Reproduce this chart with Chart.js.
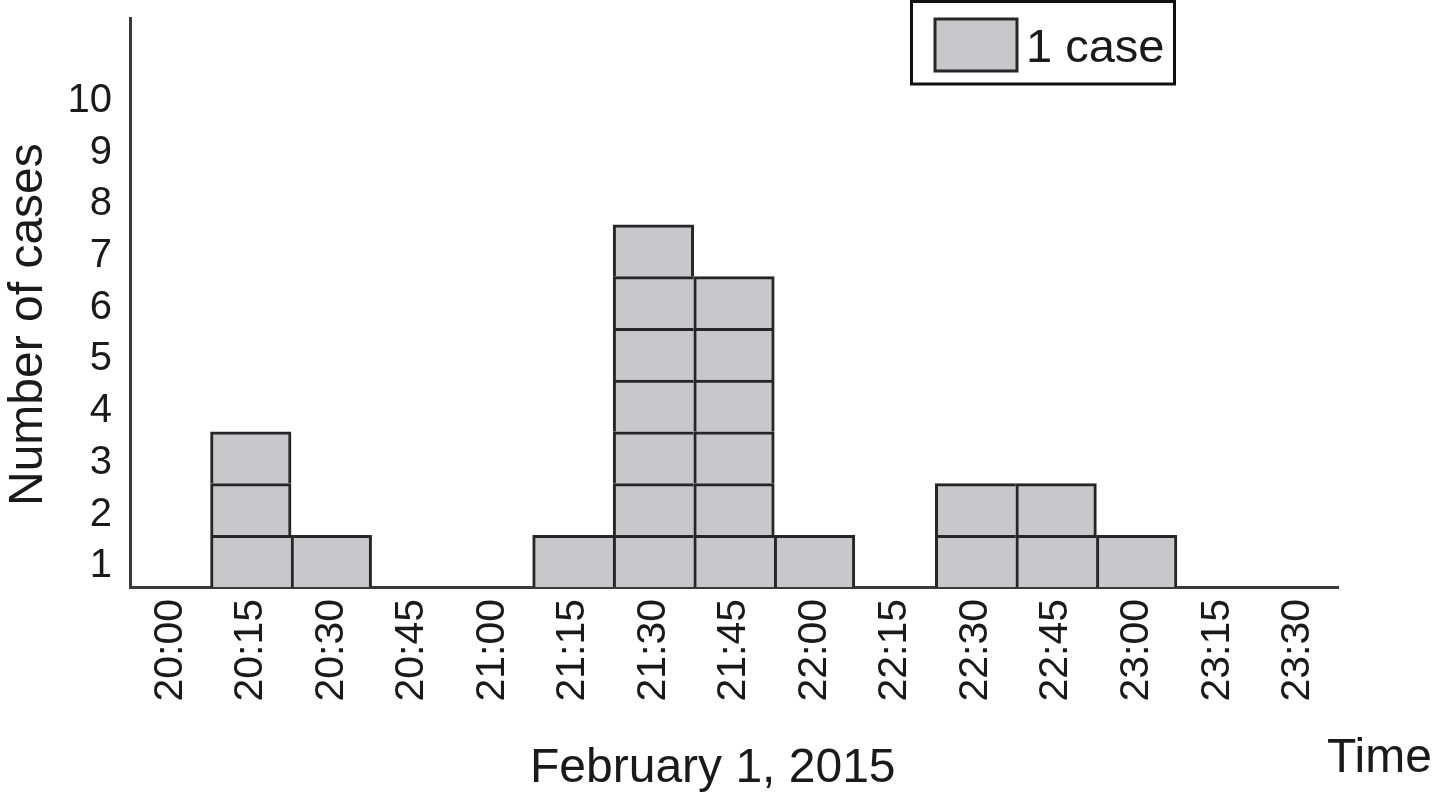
<!DOCTYPE html>
<html>
<head>
<meta charset="utf-8">
<title>Epidemic curve, February 1, 2015</title>
<script src="https://cdn.jsdelivr.net/npm/chart.js@4/dist/chart.umd.min.js"></script>
<style>
  html, body { margin: 0; padding: 0; background: #fff; }
  #wrap { width: 1434px; height: 794px; }
</style>
</head>
<body>
<div id="wrap"><canvas id="chart"></canvas></div>
<script>
// time slots (15 minute bins) and number of cases in each
const timeLabels = ['20:00', '20:15', '20:30', '20:45', '21:00', '21:15', '21:30', '21:45',
                    '22:00', '22:15', '22:30', '22:45', '23:00', '23:15', '23:30'];
const caseCounts = [0, 3, 1, 0, 0, 1, 7, 6, 1, 0, 2, 2, 1, 0, 0];
const yTickLabels = [1, 2, 3, 4, 5, 6, 7, 8, 9, 10];
const yMax = 11;

const xTitle = 'February 1, 2015';
const xUnit = 'Time';
const yTitle = 'Number of cases';
const legendText = '1 case';

const boxFill = '#c8c8ca';
const boxLine = '#262626';
const axisLine = '#3a3a3a';
const textColor = '#1a1a1a';
const fontFamily = '"Liberation Sans", Arial, Helvetica, sans-serif';

// labels sit a bit below the middle of each box row
const labelShift = 0.6;

// one stacked dataset per "row" of boxes, each box is one case
const maxCount = Math.max(...caseCounts);
const datasets = [];
for (let level = 0; level < maxCount; level++) {
    datasets.push({
        label: 'level ' + (level + 1),
        data: caseCounts.map(c => c > level ? 1 : null),
        backgroundColor: boxFill,
        borderColor: boxLine,
        borderSkipped: false,
        // draw shared edges only once
        borderWidth: ctx => {
            const i = ctx.dataIndex;
            const next = caseCounts[i + 1] || 0;
            return { top: 3, left: 3, bottom: 0, right: next > level ? 0 : 3 };
        },
        categoryPercentage: 1,
        barPercentage: 1
    });
}

// titles and legend box drawn on the canvas
const extrasPlugin = {
    id: 'extras',
    afterDraw(chart) {
        const ctx = chart.ctx;
        ctx.save();
        ctx.fillStyle = textColor;
        ctx.font = '48px ' + fontFamily;
        ctx.textAlign = 'left';
        ctx.textBaseline = 'alphabetic';
        ctx.fillText(xTitle, 530, 782);
        ctx.fillText(xUnit, 1327, 772);

        ctx.save();
        ctx.translate(42, 506);
        ctx.rotate(-Math.PI / 2);
        ctx.fillText(yTitle, 0, 0);
        ctx.restore();

        // legend
        ctx.lineWidth = 3;
        ctx.strokeStyle = '#111';
        ctx.strokeRect(911.5, 1.5, 263, 82.5);
        ctx.fillStyle = boxFill;
        ctx.fillRect(935, 19, 82, 52);
        ctx.strokeStyle = boxLine;
        ctx.strokeRect(935, 19, 82, 52);
        ctx.fillStyle = textColor;
        ctx.font = '47px ' + fontFamily;
        ctx.fillText(legendText, 1026, 62);
        ctx.restore();
    }
};

new Chart(document.getElementById('chart'), {
    type: 'bar',
    data: { labels: timeLabels, datasets: datasets },
    options: {
        responsive: true,
        maintainAspectRatio: false,
        animation: false,
        layout: { padding: { top: 18, right: 96, left: 0, bottom: 0 } },
        plugins: {
            legend: { display: false },
            tooltip: { enabled: false }
        },
        scales: {
            x: {
                stacked: true,
                z: 1,
                grid: { display: false, drawTicks: false },
                border: { display: true, color: axisLine, width: 3 },
                ticks: {
                    color: textColor,
                    font: { family: fontFamily, size: 41 },
                    minRotation: 90,
                    maxRotation: 90,
                    autoSkip: false,
                    padding: 12
                },
                afterFit: scale => { scale.height = 207; }
            },
            y: {
                stacked: true,
                min: 0,
                max: yMax,
                grid: { display: false, drawTicks: false },
                border: { display: true, color: axisLine, width: 3 },
                ticks: {
                    color: textColor,
                    font: { family: fontFamily, size: 40 },
                    padding: 18,
                    callback: value => Math.round(value + labelShift)
                },
                afterBuildTicks: scale => {
                    scale.ticks = yTickLabels.map(v => ({ value: v - labelShift }));
                },
                afterFit: scale => {
                    scale.width = 130;
                    scale.paddingTop = 0;
                    scale.paddingBottom = 0;
                }
            }
        }
    },
    plugins: [extrasPlugin]
});
</script>
</body>
</html>
